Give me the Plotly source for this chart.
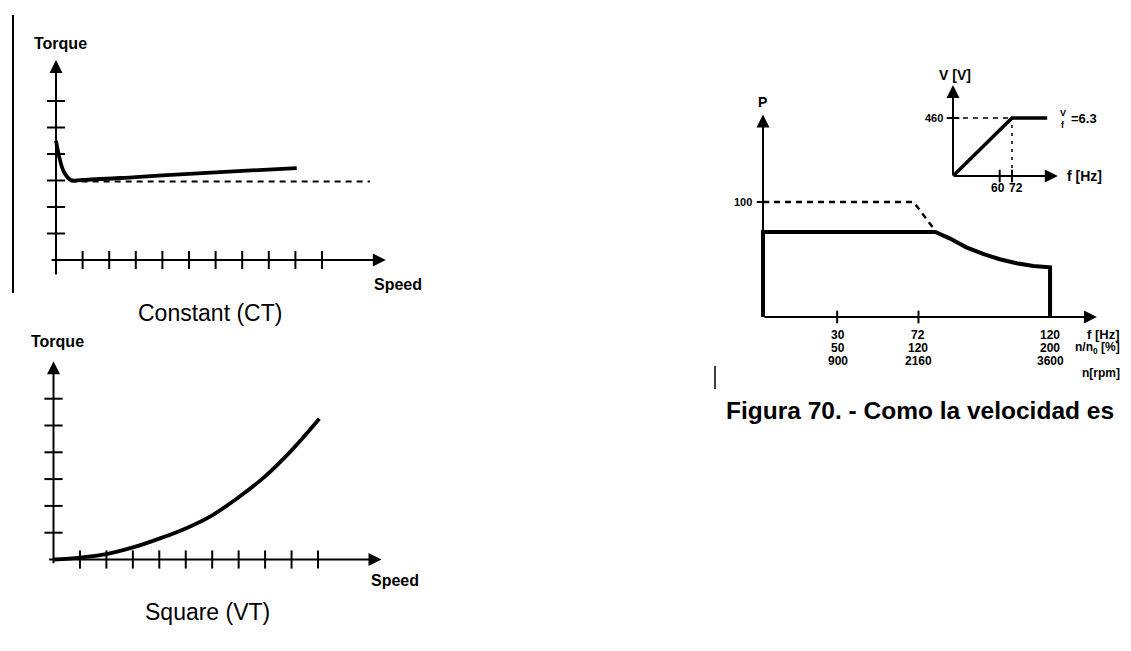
import plotly.graph_objects as go

# page offset of the plot div (browser body margin) and figure size
OFF = 8
W, H = 1131 - OFF, 621

# ---------------- data ----------------
# Constant torque (CT)
CT_SPEED = [0, 0.15, 0.3, 0.55, 1.0, 3.0, 5.0, 7.0, 9.05]
CT_TORQUE = [4.5, 3.77, 3.32, 3.02, 3.02, 3.13, 3.25, 3.36, 3.47]
CT_RATED_SPEED = [0.55, 11.8]
CT_RATED_TORQUE = [2.96, 2.96]
CT_XTICKS = [1, 2, 3, 4, 5, 6, 7, 8, 9, 10]
CT_YTICKS = [1, 2, 3, 4, 5, 6]

# Square / variable torque (VT)
VT_SPEED = [0, 1, 2, 3, 4, 5, 6, 7, 8, 9, 10.05]
VT_TORQUE = [0, 0.07, 0.2, 0.45, 0.78, 1.16, 1.65, 2.32, 3.1, 4.07, 5.25]
VT_XTICKS = [1, 2, 3, 4, 5, 6, 7, 8, 9, 10]
VT_YTICKS = [1, 2, 3, 4, 5, 6]

# Power vs frequency
P_FREQ = [0, 0, 72, 78, 85, 92, 99, 106, 113, 120, 120]
P_POWER = [0, 74, 74, 68.4, 60.6, 54.8, 50.2, 46.7, 44.3, 43.2, 0]
P_LIMIT_FREQ = [0, 63, 72]
P_LIMIT_POWER = [100, 100, 75]
P_TICK_POS = [31, 65, 120]
P_TICK_HZ = ["30", "72", "120"]
P_TICK_PCT = ["50", "120", "200"]
P_TICK_RPM = ["900", "2160", "3600"]
P_YTICK = [100]

# V/f inset
V_FREQ = [0, 72, 115]
V_VOLT = [0, 460, 460]
V_TICK_POS = [57, 72]
V_TICK_TEXT = ["60", "72"]
V_YTICK = [460]

FONT = "Liberation Sans, Arial, sans-serif"


def px(x, y):
    """page pixel -> paper fraction"""
    return (x - OFF) / W, 1 - (y - OFF) / H


def dom_x(ox, sx, r):
    return [(ox - OFF + r[0] * sx) / W, (ox - OFF + r[1] * sx) / W]


def dom_y(oy, sy, r):
    return [1 - (oy - OFF - r[0] * sy) / H, 1 - (oy - OFF - r[1] * sy) / H]


def ax(domain, rng, anchor):
    return dict(domain=domain, range=rng, anchor=anchor, visible=False, fixedrange=True)


R1x, R1y = [-0.8, 12.8], [-0.8, 7.9]
R2x, R2y = [-0.8, 12.8], [-0.8, 7.7]
R3x, R3y = [-8, 142], [-10, 180]
R4x, R4y = [-10, 135], [-40, 740]

fig = go.Figure()


def ticks(xa, ya, xs, ys, sym, size):
    fig.add_trace(go.Scatter(x=xs, y=ys, xaxis=xa, yaxis=ya, mode="markers", cliponaxis=False,
                             marker=dict(symbol=sym, size=size, color="black",
                                         line=dict(width=2, color="black")),
                             hoverinfo="skip"))


# --- CT ---
fig.add_trace(go.Scatter(x=CT_RATED_SPEED, y=CT_RATED_TORQUE, xaxis="x", yaxis="y", mode="lines",
                         line=dict(color="black", width=2, dash="6px,5px")))
fig.add_trace(go.Scatter(x=CT_SPEED, y=CT_TORQUE, xaxis="x", yaxis="y", mode="lines",
                         line=dict(color="black", width=3.8), line_shape="spline"))
ticks("x", "y", CT_XTICKS, [0] * len(CT_XTICKS), "line-ns", 13)
ticks("x", "y", [0] * len(CT_YTICKS), CT_YTICKS, "line-ew", 13)

# --- VT ---
fig.add_trace(go.Scatter(x=VT_SPEED, y=VT_TORQUE, xaxis="x2", yaxis="y2", mode="lines",
                         line=dict(color="black", width=3.8), line_shape="spline"))
ticks("x2", "y2", VT_XTICKS, [0] * len(VT_XTICKS), "line-ns", 13)
ticks("x2", "y2", [0] * len(VT_YTICKS), VT_YTICKS, "line-ew", 13)

# --- Power ---
fig.add_trace(go.Scatter(x=P_LIMIT_FREQ, y=P_LIMIT_POWER, xaxis="x3", yaxis="y3", mode="lines",
                         line=dict(color="black", width=2.5, dash="6px,5px")))
fig.add_trace(go.Scatter(x=P_FREQ, y=P_POWER, xaxis="x3", yaxis="y3", mode="lines",
                         line=dict(color="black", width=4)))
ticks("x3", "y3", P_TICK_POS[:2], [0, 0], "line-ns", 9)
ticks("x3", "y3", [0], P_YTICK, "line-ew", 9)

# --- V/f inset ---
fig.add_trace(go.Scatter(x=[0, V_FREQ[1]], y=[V_VOLT[1], V_VOLT[1]], xaxis="x4", yaxis="y4", mode="lines",
                         line=dict(color="black", width=1.5, dash="5px,5px")))
fig.add_trace(go.Scatter(x=[V_FREQ[1], V_FREQ[1]], y=[0, V_VOLT[1]], xaxis="x4", yaxis="y4", mode="lines",
                         line=dict(color="black", width=1.5, dash="3px,5px")))
fig.add_trace(go.Scatter(x=V_FREQ, y=V_VOLT, xaxis="x4", yaxis="y4", mode="lines",
                         line=dict(color="black", width=3.5)))
ticks("x4", "y4", V_TICK_POS, [0, 0], "line-ns", 9)
ticks("x4", "y4", [0], V_YTICK, "line-ew", 9)


def arrow(xr, yr, x0, y0, x1, y1, w=2):
    return dict(xref=xr, yref=yr, axref=xr, ayref=yr, x=x1, y=y1, ax=x0, ay=y0, text="",
                showarrow=True, arrowhead=2, arrowsize=1.3, arrowwidth=w, arrowcolor="black")


def txt(x, y, s, size, bold=True, xa="center", ya="middle"):
    fx, fy = px(x, y)
    return dict(xref="paper", yref="paper", x=fx, y=fy, text=s, showarrow=False,
                xanchor=xa, yanchor=ya,
                font=dict(family=FONT, size=size, color="black",
                          weight="bold" if bold else "normal"))


ann = []
# CT
ann.append(arrow("x", "y", -0.22, 0, 12.4, 0))
ann.append(arrow("x", "y", 0, -0.6, 0, 7.55))
ann.append(txt(60, 43, "Torque", 16))
ann.append(txt(398, 284, "Speed", 16))
ann.append(txt(210, 313, "Constant (CT)", 23, bold=False))
# VT
ann.append(arrow("x2", "y2", -0.22, 0, 12.4, 0))
ann.append(arrow("x2", "y2", 0, -0.2, 0, 7.4))
ann.append(txt(57, 342, "Torque", 16))
ann.append(txt(395, 580, "Speed", 16))
ann.append(txt(207, 612, "Square (VT)", 23, bold=False))
# Power
ann.append(arrow("x3", "y3", 0, 0, 139.6, 0))
ann.append(arrow("x3", "y3", 0, 0, 0, 176))
ann.append(txt(762, 102, "P", 14))
ann.append(txt(754, 202, "100", 11, xa="right"))
tick_px = [838, 918, 1050]
for xp, a, b, c in zip(tick_px, P_TICK_HZ, P_TICK_PCT, P_TICK_RPM):
    ann.append(txt(xp, 335, a, 12))
    ann.append(txt(xp, 348, b, 12))
    ann.append(txt(xp, 361, c, 12))
ann.append(txt(1122, 334, "f [Hz]", 13, xa="right"))
ann.append(txt(1122, 348, "n/n<sub>0</sub> [%]", 12, xa="right"))
ann.append(txt(1122, 373, "n[rpm]", 12, xa="right"))
# inset
ann.append(arrow("x4", "y4", 0, 0, 128, 0))
ann.append(arrow("x4", "y4", 0, 0, 0, 722))
ann.append(txt(955, 75, "V [V]", 14))
ann.append(txt(945, 118, "460", 11, xa="right"))
for xp, s in zip([998, 1016], V_TICK_TEXT):
    ann.append(txt(xp, 188, s, 12))
ann.append(txt(1065, 176, "f [Hz]", 14, xa="left"))
ann.append(txt(1063, 113, "V", 9))
ann.append(txt(1063, 125, "f", 9))
ann.append(txt(1069, 118, "=6.3", 13, xa="left"))
# caption
ann.append(txt(724, 410, "Figura 70. - Como la velocidad es", 24.5, xa="left"))

x13, ya = px(13, 15)
_, yb = px(13, 293)
x715, yc = px(715, 366)
_, yd = px(715, 389)
shapes = [
    dict(type="line", xref="paper", yref="paper", x0=x13, x1=x13, y0=ya, y1=yb,
         line=dict(color="black", width=2)),
    dict(type="line", xref="paper", yref="paper", x0=x715, x1=x715, y0=yc, y1=yd,
         line=dict(color="black", width=1.5)),
]

fig.update_layout(
    width=W, height=H, margin=dict(l=0, r=0, t=0, b=0),
    paper_bgcolor="white", plot_bgcolor="rgba(0,0,0,0)", showlegend=False,
    xaxis=ax(dom_x(56, 26.6, R1x), R1x, "y"),
    yaxis=ax(dom_y(260, 26.5, R1y), R1y, "x"),
    xaxis2=ax(dom_x(53.5, 26.45, R2x), R2x, "y2"),
    yaxis2=ax(dom_y(559.5, 26.8, R2y), R2y, "x2"),
    xaxis3=ax(dom_x(763, 2.392, R3x), R3x, "y3"),
    yaxis3=ax(dom_y(317, 1.15, R3y), R3y, "x3"),
    xaxis4=ax(dom_x(953, 0.819, R4x), R4x, "y4"),
    yaxis4=ax(dom_y(176, 0.126, R4y), R4y, "x4"),
    annotations=ann, shapes=shapes,
)

fig.write_html("out.html")
